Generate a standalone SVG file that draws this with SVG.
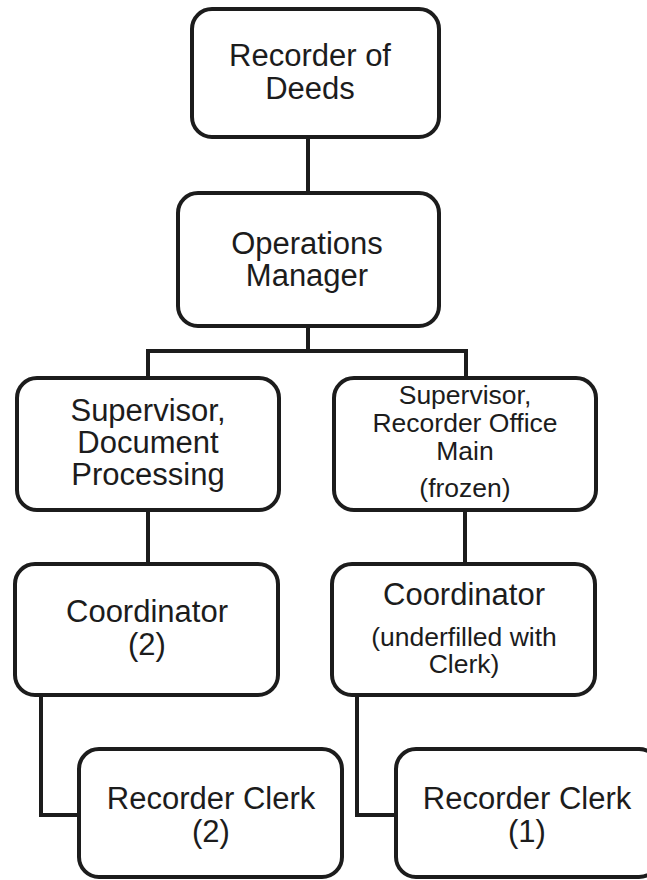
<svg xmlns="http://www.w3.org/2000/svg" width="647" height="880" viewBox="0 0 647 880">
  <style>
    .box { fill: #ffffff; stroke: #1c1c1c; stroke-width: 4; }
    .link { fill: none; stroke: #1c1c1c; stroke-width: 4; stroke-linejoin: miter; }
    .t { font-family: "Liberation Sans", Arial, sans-serif; fill: #1c1c1c; text-anchor: middle; }
    .big { font-size: 31px; }
    .small { font-size: 26.5px; }
  </style>
  <rect width="647" height="880" fill="#ffffff"/>

  <!-- reporting lines -->
  <g id="connectors">
    <path class="link" d="M308,137 V193"/>
    <path class="link" d="M308,326 V351 M148,351 H466 M148,349 V378 M466,349 V378"/>
    <path class="link" d="M148,510 V564"/>
    <path class="link" d="M465,510 V564"/>
    <path class="link" d="M41,695 V815 H79"/>
    <path class="link" d="M357,695 V815 H396"/>
  </g>

  <g id="recorder-of-deeds">
    <rect class="box" x="192" y="9" width="247" height="128" rx="20"/>
    <text class="t big" x="310" y="66">Recorder of</text>
    <text class="t big" x="310" y="99">Deeds</text>
  </g>

  <g id="operations-manager">
    <rect class="box" x="178" y="193" width="261" height="133" rx="20"/>
    <text class="t big" x="307" y="254">Operations</text>
    <text class="t big" x="307" y="286">Manager</text>
  </g>

  <g id="supervisor-document-processing">
    <rect class="box" x="17" y="378" width="262" height="132" rx="20"/>
    <text class="t big" x="148" y="421">Supervisor,</text>
    <text class="t big" x="148" y="453">Document</text>
    <text class="t big" x="148" y="485">Processing</text>
  </g>

  <g id="supervisor-recorder-office-main">
    <rect class="box" x="334" y="378" width="262" height="132" rx="20"/>
    <text class="t small" x="465" y="404">Supervisor,</text>
    <text class="t small" x="465" y="432">Recorder Office</text>
    <text class="t small" x="465" y="460">Main</text>
    <text class="t small" x="465" y="497">(frozen)</text>
  </g>

  <g id="coordinator-left">
    <rect class="box" x="15" y="564" width="263" height="131" rx="20"/>
    <text class="t big" x="147" y="622">Coordinator</text>
    <text class="t big" x="147" y="655">(2)</text>
  </g>

  <g id="coordinator-right">
    <rect class="box" x="332" y="564" width="263" height="131" rx="20"/>
    <text class="t big" x="464" y="605">Coordinator</text>
    <text class="t small" x="464" y="646">(underfilled with</text>
    <text class="t small" x="464" y="673">Clerk)</text>
  </g>

  <g id="recorder-clerk-left">
    <rect class="box" x="79" y="749" width="263" height="128" rx="20"/>
    <text class="t big" x="211" y="809">Recorder Clerk</text>
    <text class="t big" x="211" y="842">(2)</text>
  </g>

  <g id="recorder-clerk-right">
    <rect class="box" x="396" y="749" width="263" height="128" rx="20"/>
    <text class="t big" x="527" y="809">Recorder Clerk</text>
    <text class="t big" x="527" y="842">(1)</text>
  </g>
</svg>
